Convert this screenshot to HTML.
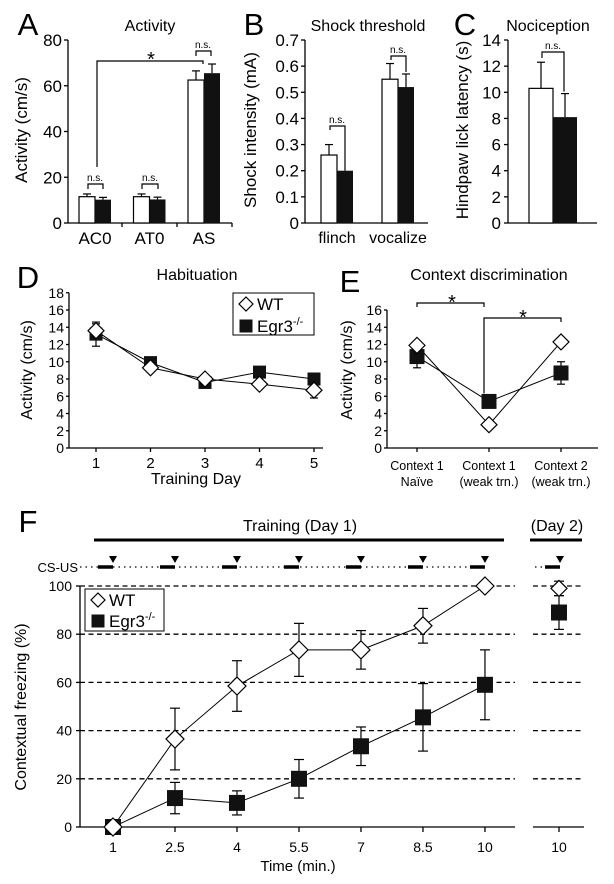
<!DOCTYPE html>
<html><head><meta charset="utf-8"><style>
body{margin:0;background:#fff}
svg{display:block;font-family:"Liberation Sans",Arial,sans-serif}
text{font-family:"Liberation Sans",Arial,sans-serif}
</style></head><body>
<svg id="fig" width="614" height="884" viewBox="0 0 614 884" xmlns="http://www.w3.org/2000/svg"></svg>
<script>
// Panel A
const aCats=['AC0','AT0','AS'];
const aWT=[11.5,11.5,62.5];
const aWTerr=[1.2,1.2,4];
const aKO=[10.2,10.3,65.5];
const aKOerr=[1.0,1.0,4];
const aTicks=[0,20,40,60,80];
// Panel B
const bCats=['flinch','vocalize'];
const bWT=[0.26,0.55];
const bWTerr=[0.04,0.06];
const bKO=[0.20,0.52];
const bKOerr=[0,0.05];
const bTicks=['0','0.1','0.2','0.3','0.4','0.5','0.6','0.7'];
// Panel C
const cWT=[10.3];
const cWTerr=[2.0];
const cKO=[8.1];
const cKOerr=[1.8];
const cTicks=[0,2,4,6,8,10,12,14];
// Panel D
const dDays=[1,2,3,4,5];
const dWT=[13.6,9.3,8.0,7.4,6.7];
const dWTerr=[0.8,0.5,0.4,0.4,0.9];
const dKO=[13.2,9.9,7.6,8.8,8.0];
const dKOerr=[1.4,0.6,0.5,0.5,0.6];
const dTicks=[0,2,4,6,8,10,12,14,16,18];
// Panel E
const eCats=[['Context 1','Naïve'],['Context 1','(weak trn.)'],['Context 2','(weak trn.)']];
const eWT=[11.9,2.7,12.3];
const eWTerr=[0.3,0.3,0.5];
const eKO=[10.6,5.4,8.7];
const eKOerr=[1.3,0.4,1.3];
const eTicks=[0,2,4,6,8,10,12,14,16];
// Panel F
const fTimes=[1,2.5,4,5.5,7,8.5,10];
const fTimeLabels=['1','2.5','4','5.5','7','8.5','10'];
const fWT=[0,36.5,58.5,73.5,73.5,83.5,100];
const fWTerr=[0,12.8,10.5,11,8,7.2,0];
const fKO=[0,12,10,20,33.5,45.5,59];
const fKOerr=[0,6.5,5,8,8,14,14.5];
const fDay2WT=[99];
const fDay2WTerr=[3];
const fDay2KO=[89];
const fDay2KOerr=[7];
const fTicks=[0,20,40,60,80,100];

const NS='http://www.w3.org/2000/svg';
const svg=document.getElementById('fig');
function mk(tag,attrs,name){
  const el=document.createElementNS(NS,tag);
  for(const k in attrs) el.setAttribute(k,attrs[k]);
  
  
  svg.appendChild(el);return el;
}
function line(x1,y1,x2,y2,name,w,dash){const a={x1,y1,x2,y2,stroke:'#000','stroke-width':w||1.3};if(dash)a['stroke-dasharray']=dash;return mk('line',a,name);}
function txt(x,y,s,size,name,anchor,extra){const a={x,y,'font-size':size,'text-anchor':anchor||'middle',fill:'#000','font-family':'Liberation Sans, Arial, sans-serif'};if(extra)Object.assign(a,extra);const t=mk('text',a,name);t.textContent=s;return t;}
function poly(pts,name,w){return mk('polyline',{points:pts.map(p=>p.join(',')).join(' '),fill:'none',stroke:'#000','stroke-width':w||1},name);}
function errbar(x,y1,y2,cap,name){line(x,y1,x,y2,name,1.2);line(x-cap,y1,x+cap,y1,name+'-cap',1.2);}
function diamond(x,y,r,name){return mk('polygon',{points:`${x},${y-r} ${x+r},${y} ${x},${y+r} ${x-r},${y}`,fill:'#fff',stroke:'#000','stroke-width':1.2},name);}
function square(x,y,r,name){return mk('rect',{x:x-r,y:y-r,width:2*r,height:2*r,fill:'#111'},name);}
function bracket(x1,x2,y,l1,l2,name){poly([[x1,l1],[x1,y],[x2,y],[x2,l2]],name,1.2);}
function ytitle(x,y,s,size,name){txt(x,y,s,size,name,'middle',{transform:`rotate(-90 ${x} ${y})`});}

// ===== Panel A =====
const aY=v=>223-v*183/80;
txt(28,35,'A',31,'panel-label-a');
txt(150,31,'Activity',16,'title-activity');
line(68,40,68,223,'a-y-axis');line(68,223,232,223,'a-x-axis');
aTicks.forEach(t=>{line(64,aY(t),68,aY(t),'a-y-tick');txt(62,aY(t)+6,t,17,'a-y-tick-label','end');});
[122,177,232].forEach(x=>line(x,223,x,227,'a-x-tick'));
ytitle(27,130,'Activity (cm/s)',17,'a-y-axis-title');
const aGroup=i=>79+i*54.5;
aCats.forEach((c,i)=>{
  const x=aGroup(i);
  errbar(x+8,aY(aWT[i]+aWTerr[i]),aY(aWT[i]),4,'a-wt-error');
  errbar(x+24,aY(aKO[i]+aKOerr[i]),aY(aKO[i]),4,'a-ko-error');
  mk('rect',{x:x,y:aY(aWT[i]),width:16,height:223-aY(aWT[i]),fill:'#fff',stroke:'#000','stroke-width':1.2},'a-bar-wt-'+c);
  mk('rect',{x:x+16,y:aY(aKO[i]),width:16,height:223-aY(aKO[i]),fill:'#111'},'a-bar-ko-'+c);
  txt(x+16,244,c,17,'a-x-label');
});
bracket(88,103,184,189,189,'a-ns-bracket');txt(95,181,'n.s.',10,'a-ns');
bracket(142,158,184,189,189,'a-ns-bracket');txt(150,181,'n.s.',10,'a-ns');
bracket(196,211,51,56,56,'a-ns-bracket');txt(203,48,'n.s.',10,'a-ns');
bracket(97,203,61,167,64,'a-sig-bracket');txt(151,66,'*',20,'a-star');

// ===== Panel B =====
const bY=v=>223-v*183/0.7;
txt(254,35,'B',31,'panel-label-b');
txt(368,31,'Shock threshold',16,'title-shock');
line(305,40,305,223,'b-y-axis');line(305,223,428,223,'b-x-axis');
bTicks.forEach(t=>{const y=bY(+t);line(301,y,305,y,'b-y-tick');txt(299,y+6,t,17,'b-y-tick-label','end');});
ytitle(256,130,'Shock intensity (mA)',17,'b-y-axis-title');
bCats.forEach((c,i)=>{
  const x=321+i*61;
  if(bWTerr[i])errbar(x+8,bY(bWT[i]+bWTerr[i]),bY(bWT[i]),4,'b-wt-error');
  if(bKOerr[i])errbar(x+24,bY(bKO[i]+bKOerr[i]),bY(bKO[i]),4,'b-ko-error');
  mk('rect',{x:x,y:bY(bWT[i]),width:16,height:223-bY(bWT[i]),fill:'#fff',stroke:'#000','stroke-width':1.2},'b-bar-wt-'+c);
  mk('rect',{x:x+16,y:bY(bKO[i]),width:16,height:223-bY(bKO[i]),fill:'#111'},'b-bar-ko-'+c);
  txt(x+16,243,c,16,'b-x-label');
});
bracket(330,345,126,130,bY(bKO[0]),'b-ns-bracket');txt(337,123,'n.s.',10,'b-ns');
bracket(391,406,56,60,bY(bKO[1]+bKOerr[1])-2,'b-ns-bracket');txt(398,53,'n.s.',10,'b-ns');

// ===== Panel C =====
const cY=v=>223-v*183/14;
txt(465,35,'C',31,'panel-label-c');
txt(548,31,'Nociception',16,'title-nociception');
line(508,40,508,223,'c-y-axis');line(508,223,597,223,'c-x-axis');
cTicks.forEach(t=>{line(504,cY(t),508,cY(t),'c-y-tick');txt(501,cY(t)+6,t,17,'c-y-tick-label','end');});
ytitle(468,130,'Hindpaw lick latency (s)',17,'c-y-axis-title');
errbar(541,cY(cWT[0]+cWTerr[0]),cY(cWT[0]),4,'c-wt-error');
errbar(565,cY(cKO[0]+cKOerr[0]),cY(cKO[0]),4,'c-ko-error');
mk('rect',{x:529,y:cY(cWT[0]),width:24,height:223-cY(cWT[0]),fill:'#fff',stroke:'#000','stroke-width':1.2},'c-bar-wt');
mk('rect',{x:553,y:cY(cKO[0]),width:24,height:223-cY(cKO[0]),fill:'#111'},'c-bar-ko');
bracket(542,564,52,58,cY(cKO[0]+cKOerr[0])-2,'c-ns-bracket');txt(553,49,'n.s.',10,'c-ns');

// ===== Panel D =====
const dY=v=>448-v*8.625;
const dX=d=>96+(d-1)*54.5;
txt(28,288,'D',31,'panel-label-d');
txt(197,280,'Habituation',16,'title-habituation');
line(69,dY(18),69,448,'d-y-axis');line(69,448,323,448,'d-x-axis');
dTicks.forEach(t=>{line(66,dY(t),69,dY(t),'d-y-tick');txt(64,dY(t)+5,t,14,'d-y-tick-label','end');});
dDays.forEach(d=>{line(dX(d),448,dX(d),452,'d-x-tick');txt(dX(d),468,d,15,'d-x-tick-label');});
txt(196,484,'Training Day',16,'d-x-axis-title');
ytitle(32,370,'Activity (cm/s)',16,'d-y-axis-title');
dDays.forEach((d,i)=>{errbar(dX(d),dY(dKO[i]+dKOerr[i]),dY(dKO[i]-dKOerr[i]),4,'d-ko-error');line(dX(d)-4,dY(dKO[i]-dKOerr[i]),dX(d)+4,dY(dKO[i]-dKOerr[i]),'d-ko-error-cap',1.2);});
dDays.forEach((d,i)=>{errbar(dX(d),dY(dWT[i]+dWTerr[i]),dY(dWT[i]-dWTerr[i]),4,'d-wt-error');line(dX(d)-4,dY(dWT[i]-dWTerr[i]),dX(d)+4,dY(dWT[i]-dWTerr[i]),'d-wt-error-cap',1.2);});
poly(dDays.map((d,i)=>[dX(d),dY(dKO[i])]),'d-ko-line');
poly(dDays.map((d,i)=>[dX(d),dY(dWT[i])]),'d-wt-line');
dDays.forEach((d,i)=>square(dX(d),dY(dKO[i]),6.5,'d-ko-point'));
dDays.forEach((d,i)=>diamond(dX(d),dY(dWT[i]),8,'d-wt-point'));
mk('rect',{x:233,y:293,width:81,height:42,fill:'#fff',stroke:'#000','stroke-width':1},'d-legend');
diamond(246,304,7,'d-legend-wt-marker');txt(257,310,'WT',17,'d-legend-wt','start');
square(246,326,6.5,'d-legend-ko-marker');const dl=txt(257,332,'Egr3',17,'d-legend-ko','start');
const dsup=document.createElementNS(NS,'tspan');dsup.setAttribute('dy','-7');dsup.setAttribute('font-size','11');dsup.textContent='-/-';dl.appendChild(dsup);

// ===== Panel E =====
const eY=v=>448-v*8.625;
const eX=i=>417+i*72;
txt(350,292,'E',31,'panel-label-e');
txt(489,280,'Context discrimination',16,'title-context');
line(387,310,387,448,'e-y-axis');line(387,448,598,448,'e-x-axis');
eTicks.forEach(t=>{line(384,eY(t),387,eY(t),'e-y-tick');txt(382,eY(t)+5,t,14,'e-y-tick-label','end');});
eCats.forEach((c,i)=>{line(eX(i),448,eX(i),452,'e-x-tick');txt(eX(i),470,c[0],12.5,'e-x-label');txt(eX(i),486,c[1],12.5,'e-x-label');});
ytitle(352,370,'Activity (cm/s)',16,'e-y-axis-title');
eCats.forEach((c,i)=>{errbar(eX(i),eY(eKO[i]+eKOerr[i]),eY(eKO[i]-eKOerr[i]),4,'e-ko-error');line(eX(i)-4,eY(eKO[i]-eKOerr[i]),eX(i)+4,eY(eKO[i]-eKOerr[i]),'e-ko-error-cap',1.2);});
poly(eCats.map((c,i)=>[eX(i),eY(eKO[i])]),'e-ko-line');
poly(eCats.map((c,i)=>[eX(i),eY(eWT[i])]),'e-wt-line');
eCats.forEach((c,i)=>square(eX(i),eY(eKO[i]),7.5,'e-ko-point'));
eCats.forEach((c,i)=>diamond(eX(i),eY(eWT[i]),8,'e-wt-point'));
bracket(417,484,303,307,307,'e-sig-bracket-1');txt(452,309,'*',20,'e-star-1');
bracket(484,561,318,eY(eKO[1])-8,322,'e-sig-bracket-2');txt(523,324,'*',20,'e-star-2');

// ===== Panel F =====
const fY=v=>827-v*2.41;
const fX=t=>113+(t-1)*41.33;
const fX2=559;
txt(28,532,'F',31,'panel-label-f');
txt(300,531,'Training (Day 1)',16,'f-training-label');
line(94,540,504,540,'f-training-bar',3);
txt(557,531,'(Day 2)',16,'f-day2-label');
line(530,540,582,540,'f-day2-bar',3);
txt(78,572,'CS-US',13,'f-csus-label','end');
line(80,567,482,567,'f-csus-dotted',1.2,'1.5 4');
line(535,567,558,567,'f-csus-dotted-day2',1.2,'1.5 4');
fTimes.forEach(t=>{const x=fX(t);line(x-15,567,x,567,'f-cs-bar',3.5);mk('polygon',{points:`${x-4},556 ${x+4},556 ${x},563`,fill:'#000'},'f-us-marker');});
line(545,567,560,567,'f-cs-bar-day2',3.5);mk('polygon',{points:`556,556 564,556 560,563`,fill:'#000'},'f-us-marker-day2');
fTicks.slice(1).forEach(t=>{line(80,fY(t),515,fY(t),'f-gridline',1.3,'5 3.5');line(533,fY(t),584,fY(t),'f-gridline-day2',1.3,'5 3.5');});
line(80,586,80,827,'f-y-axis');line(80,827,515,827,'f-x-axis');line(533,827,584,827,'f-x-axis-day2');
fTicks.forEach(t=>{line(76,fY(t),80,fY(t),'f-y-tick');txt(72,fY(t)+5,t,14,'f-y-tick-label','end');});
fTimes.forEach((t,i)=>{line(fX(t),827,fX(t),832,'f-x-tick');txt(fX(t),852,fTimeLabels[i],14,'f-x-tick-label');});
line(fX2,827,fX2,832,'f-x-tick-day2');txt(fX2,852,'10',14,'f-x-tick-label-day2');
txt(298,871,'Time (min.)',15,'f-x-axis-title');
ytitle(26,707,'Contextual freezing (%)',16,'f-y-axis-title');
function fErr(x,v,e,nm){if(!e)return;line(x,fY(v+e),x,fY(Math.max(0,v-e)),nm,1.2);line(x-5,fY(v+e),x+5,fY(v+e),nm+'-cap',1.2);line(x-5,fY(v-e),x+5,fY(v-e),nm+'-cap',1.2);}
fTimes.forEach((t,i)=>fErr(fX(t),fWT[i],fWTerr[i],'f-wt-error'));
fTimes.forEach((t,i)=>fErr(fX(t),fKO[i],fKOerr[i],'f-ko-error'));
fErr(fX2,fDay2WT[0],fDay2WTerr[0],'f-day2-wt-error');
fErr(fX2,fDay2KO[0],fDay2KOerr[0],'f-day2-ko-error');
poly(fTimes.map((t,i)=>[fX(t),fY(fKO[i])]),'f-ko-line');
poly(fTimes.map((t,i)=>[fX(t),fY(fWT[i])]),'f-wt-line');
fTimes.forEach((t,i)=>square(fX(t),fY(fKO[i]),8,'f-ko-point'));
fTimes.forEach((t,i)=>diamond(fX(t),fY(fWT[i]),9,'f-wt-point'));
square(fX2,fY(fDay2KO[0]),8,'f-day2-ko-point');
diamond(fX2,fY(fDay2WT[0]),8,'f-day2-wt-point');
mk('rect',{x:85,y:589,width:79,height:42,fill:'#fff',stroke:'#000','stroke-width':1},'f-legend');
diamond(98,600,7,'f-legend-wt-marker');txt(109,606,'WT',17,'f-legend-wt','start');
square(98,621,6.5,'f-legend-ko-marker');const fl=txt(109,627,'Egr3',17,'f-legend-ko','start');
const fsup=document.createElementNS(NS,'tspan');fsup.setAttribute('dy','-7');fsup.setAttribute('font-size','11');fsup.textContent='-/-';fl.appendChild(fsup);
</script>
</body></html>
